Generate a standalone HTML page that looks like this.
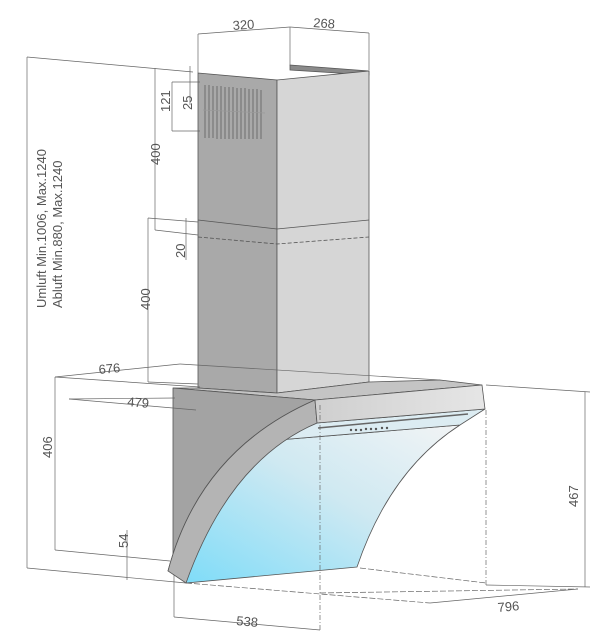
<!DOCTYPE html>
<html><head><meta charset="utf-8"><style>
html,body{margin:0;padding:0;background:#fff;}
svg{display:block;}
text{font-family:"Liberation Sans",sans-serif;font-size:13px;fill:#555;}
</style></head><body>
<svg width="611" height="640" viewBox="0 0 611 640" xmlns="http://www.w3.org/2000/svg">
<defs>
<linearGradient id="glass" x1="0" y1="1" x2="1" y2="0">
<stop offset="0" stop-color="#7fdcf8"/>
<stop offset="0.55" stop-color="#cfe9f2"/>
<stop offset="1" stop-color="#f2f4f5"/>
</linearGradient>
<linearGradient id="front" x1="0" y1="0" x2="1" y2="0">
<stop offset="0" stop-color="#cfcfcf"/><stop offset="1" stop-color="#e6e6e6"/>
</linearGradient>
</defs>
<g stroke="#555" stroke-width="0.8" fill="none">
<polygon points="290,65 369,71 369,75 290,70" fill="#8a8a8a"/>
<polygon points="198,73 277,80 277,393 198,388" fill="#a9a9a9"/>
<polygon points="277,80 369,71 369,382 277,393" fill="#d6d6d6"/>
<polyline points="198,220 277,229 369,220"/>
<polyline points="198,237 277,244 369,237" stroke-dasharray="4,2"/>
<g stroke="#777" stroke-width="1.2">
<line x1="205" y1="85" x2="205" y2="138"/><line x1="209" y1="85" x2="209" y2="138"/><line x1="213" y1="86" x2="213" y2="138"/><line x1="217" y1="86" x2="217" y2="139"/><line x1="221" y1="86" x2="221" y2="139"/><line x1="225" y1="87" x2="225" y2="139"/><line x1="229" y1="87" x2="229" y2="139"/><line x1="233" y1="87" x2="233" y2="139"/><line x1="237" y1="88" x2="237" y2="139"/><line x1="241" y1="88" x2="241" y2="139"/><line x1="245" y1="88" x2="245" y2="139"/><line x1="249" y1="89" x2="249" y2="139"/><line x1="253" y1="89" x2="253" y2="139"/><line x1="257" y1="89" x2="257" y2="139"/><line x1="261" y1="90" x2="261" y2="139"/>
</g>
<line x1="203" y1="110" x2="265" y2="113" stroke="#999"/>
<polygon points="173,388 315,400 482,385 440,380 369,382 277,393 198,388" fill="#c4c4c4"/>
<path d="M173,388 L315,400 Q200,450 168,571 L173,565 Z" fill="#a3a3a3"/>
<path d="M186,583 Q210,480 278,440 L460,425 Q390,470 357,567 Z" fill="url(#glass)"/>
<polygon points="317,423 485,409 460,425 278,440" fill="#dcecf2"/>
<path d="M315,400 Q200,450 168,571 L186,583 Q230,460 317,423 Z" fill="#b4b4b4"/>
<polygon points="315,400 482,385 485,409 317,423" fill="url(#front)"/>
<line x1="318" y1="428" x2="468" y2="414" stroke="#666" stroke-width="1.5"/>
<g fill="#555" stroke="none"><circle cx="351" cy="430" r="1.2"/><circle cx="356" cy="430" r="1.2"/><circle cx="361" cy="430" r="1.2"/><circle cx="366" cy="429" r="1.2"/><circle cx="371" cy="429" r="1.2"/><circle cx="376" cy="429" r="1.2"/><circle cx="382" cy="428" r="1.2"/><circle cx="387" cy="428" r="1.2"/></g>
</g>
<g stroke="#666" stroke-width="0.7" fill="none">
<line x1="27" y1="57" x2="193" y2="72"/>
<line x1="27" y1="57" x2="27" y2="568"/>
<line x1="27" y1="568" x2="186" y2="583"/>
<line x1="198" y1="73" x2="198" y2="34"/><line x1="290" y1="66" x2="290" y2="27"/><line x1="369" y1="70" x2="369" y2="33"/>
<line x1="198" y1="34" x2="290" y2="27"/><line x1="290" y1="27" x2="369" y2="33"/>
<line x1="155" y1="68" x2="155" y2="230"/>
<line x1="155" y1="230" x2="198" y2="235"/>
<line x1="172" y1="82" x2="172" y2="131"/><line x1="172" y1="82" x2="200" y2="82"/><line x1="172" y1="131" x2="200" y2="131"/>
<line x1="190" y1="66" x2="190" y2="105"/>
<line x1="186" y1="218" x2="186" y2="260"/>
<line x1="148" y1="218" x2="148" y2="382"/><line x1="148" y1="218" x2="198" y2="222"/>
<line x1="148" y1="382" x2="198" y2="384"/>
<line x1="55" y1="377" x2="180" y2="364"/><line x1="180" y1="364" x2="440" y2="380"/>
<line x1="55" y1="377" x2="200" y2="387"/>
<line x1="55" y1="377" x2="55" y2="550"/>
<line x1="55" y1="550" x2="170" y2="561"/>
<line x1="69" y1="399" x2="196" y2="410"/><line x1="69" y1="399" x2="175" y2="398"/>
<line x1="127" y1="530" x2="127" y2="580"/>
<line x1="174" y1="575" x2="174" y2="617"/><line x1="174" y1="617" x2="320" y2="630"/>
<line x1="320" y1="405" x2="320" y2="632" stroke-dasharray="5,2,1,2"/>
<line x1="486" y1="410" x2="486" y2="585" stroke-dasharray="5,2,1,2"/>
<line x1="186" y1="583" x2="430" y2="603" stroke-dasharray="6,2"/>
<line x1="320" y1="593" x2="578" y2="589" stroke-dasharray="6,2"/>
<line x1="360" y1="568" x2="486" y2="583" stroke-dasharray="6,2"/>
<line x1="430" y1="603" x2="578" y2="589"/>
<line x1="486" y1="385" x2="590" y2="392"/>
<line x1="585" y1="392" x2="585" y2="587"/>
<line x1="486" y1="585" x2="590" y2="587"/>
</g>
<text x="233" y="30" transform="rotate(-4 233 30)">320</text>
<text x="313" y="27" transform="rotate(4 313 27)">268</text>
<text x="99" y="374" transform="rotate(-5 99 374)">676</text>
<text x="127" y="406" transform="rotate(5 127 406)">479</text>
<text x="236" y="625" transform="rotate(5 236 625)">538</text>
<text x="498" y="612" transform="rotate(-5 498 612)">796</text>
<text transform="translate(160,165) rotate(-90)">400</text>
<text transform="translate(150,310) rotate(-90)">400</text>
<text transform="translate(170,112) rotate(-90)">121</text>
<text transform="translate(192,110) rotate(-90)">25</text>
<text transform="translate(185,258) rotate(-90)">20</text>
<text transform="translate(52,458) rotate(-90)">406</text>
<text transform="translate(128,548) rotate(-90)">54</text>
<text transform="translate(578,507) rotate(-90)">467</text>
<text transform="translate(46,308) rotate(-90)">Umluft Min.1006, Max.1240</text>
<text transform="translate(62,308) rotate(-90)">Abluft Min.880, Max.1240</text>
</svg>
</body></html>
